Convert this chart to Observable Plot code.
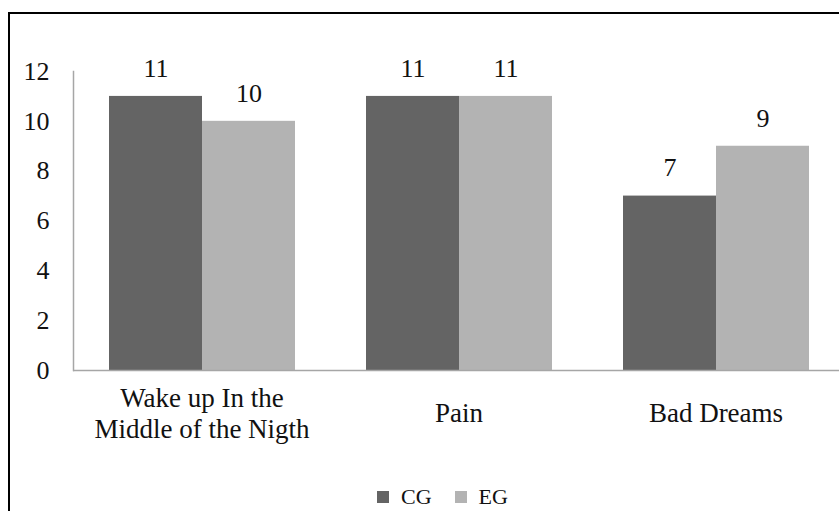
<!DOCTYPE html>
<html>
<head>
<meta charset="utf-8">
<script src="https://cdn.jsdelivr.net/npm/d3@7"></script>
<script src="https://cdn.jsdelivr.net/npm/@observablehq/plot@0.6"></script>
<style>
  html, body { margin: 0; padding: 0; overflow: hidden; background: #fff; }
  #frame {
    position: absolute; left: 8px; top: 12px;
    width: 900px; height: 600px;
    border: 2px solid #000; box-sizing: content-box;
  }
  #chart { position: absolute; left: 0; top: 0; }
  #legend {
    position: absolute; left: 367px; top: 471px; height: 24px;
    display: flex; align-items: center;
    font-family: "Liberation Serif", serif; font-size: 22px; color: #111;
  }
  #legend .sw { width: 12px; height: 12px; display: inline-block; margin-right: 12px; }
  #legend .item { display: flex; align-items: center; margin-right: 23px; }
</style>
</head>
<body>
<div id="frame">
  <div id="chart"></div>
  <div id="legend"></div>
</div>
<script>
// Sleep complaints per group
const categories = ["Wake up In the\nMiddle of the Nigth", "Pain", "Bad Dreams"];
const groups = ["CG", "EG"];
const cgValues = [11, 11, 7];
const egValues = [10, 11, 9];
const yTicks = [0, 2, 4, 6, 8, 10, 12];
const colors = ["#646464", "#b3b3b3"];

const rows = categories.flatMap((c, i) => [
  {category: c, group: "CG", value: cgValues[i]},
  {category: c, group: "EG", value: egValues[i]}
]);

const font = "Times New Roman";
const axisColor = "#a6a6a6";

const chart = Plot.plot({
  width: 834,
  height: 476,
  marginLeft: 63,
  marginRight: 0,
  marginTop: 57,
  marginBottom: 120,
  style: {background: "transparent", overflow: "visible"},
  // facets touch each other so the baseline runs unbroken
  fx: {domain: categories, padding: 0, label: null},
  x: {domain: groups, paddingInner: 0, paddingOuter: 0.375, axis: null},
  y: {domain: [0, 12], label: null},
  color: {domain: groups, range: colors},
  marks: [
    Plot.barY(rows, {fx: "category", x: "group", y: "value", fill: "group"}),
    Plot.text(rows, {fx: "category", x: "group", y: "value", text: d => String(d.value), dy: -28, fontSize: 26, fill: "#111"}),
    Plot.ruleY([0], {stroke: axisColor, strokeWidth: 1.5}),
    Plot.frame({anchor: "left", facetAnchor: "left", stroke: axisColor, strokeWidth: 1.5}),
    Plot.axisY(yTicks, {tickSize: 0, tickPadding: 24, fontSize: 26, label: null, fill: "#111"}),
    Plot.axisFx({anchor: "bottom", tickSize: 0, tickPadding: 42, lineAnchor: "middle", lineHeight: 1.15, fontSize: 27, label: null, fill: "#111"})
  ]
});
// serif face for every label
chart.setAttribute("font-family", font);
chart.querySelectorAll("text, tspan").forEach(t => {
  t.setAttribute("font-family", font);
  t.style.setProperty("font-family", "'Liberation Serif', 'Times New Roman', serif", "important");
});
document.getElementById("chart").appendChild(chart);

// Legend below the plot
const legend = document.getElementById("legend");
groups.forEach((g, i) => {
  const item = document.createElement("span");
  item.className = "item";
  const sw = document.createElement("span");
  sw.className = "sw";
  sw.style.background = colors[i];
  item.appendChild(sw);
  item.appendChild(document.createTextNode(g));
  legend.appendChild(item);
});
</script>
</body>
</html>
